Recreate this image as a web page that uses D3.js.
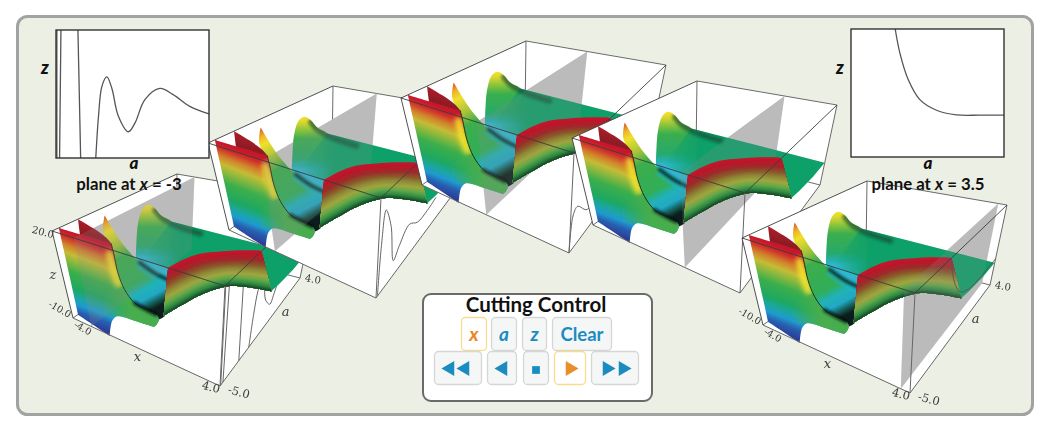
<!DOCTYPE html>
<html><head><meta charset="utf-8">
<script src="https://cdn.jsdelivr.net/npm/d3@7"></script>
<style>html,body{margin:0;padding:0;background:#fff;overflow:hidden}svg{display:block}</style>
</head><body><script>
// ---------- data (x, a, z are the chart's own axes) ----------
const xDomain = [-4, 4], aDomain = [-5, 4], zDomain = [-10, 20];
const cutPositions = [-3, -1.5, -0.5, 1, 3.5];

// z(a) cuts: each entry is a list of [a, z] runs
const cutAtMinus3 = [
  [[-4.95, 20], [-4.95, -10]],
  [[-4.71, 20], [-4.79, -10]],
  [[-3.71, 20], [-3.55, -10]],
  [[-2.66, -10], [-2.5, -0.2], [-2.3, 6.8], [-2.01, 9], [-1.72, 6.4], [-1.33, -0.2], [-0.74, -3.85], [-0.35, -1.76],
   [0.23, 3.7], [1.11, 6.3], [1.89, 4.85], [2.87, 2.1], [4, 0.34]]
];
const cutAtMinus1p5 = [
  [[-4.9, -10], [-4.8, 4.7], [-4.6, 14.5], [-4.17, 7.6], [-3.78, -5.1], [-3.34, -2.5], [-2.51, 0.7], [-1.7, -2.1], [-0.64, -2.3], [0.34, -1.3]]
];
const cutAtMinus0p5 = [
  [[-5, -10], [-4.94, -3.3], [-4.83, 0.5], [-4.53, 1.6], [-3.85, -2.9], [-3.45, -3.8], [-2, -2]]
];
const cutAt3p5 = [
  [[-2.4, 20], [-2.12, 14.3], [-1.63, 8.1], [-0.95, 3.45], [0.03, 0.96], [1.2, -0.12], [2.57, -0.2], [4, -0.2]]
];

// surface sheets: outlines as [x, z] at one a, or [x, a, z]
const wedgeA = -4.6;
const wedgeSheet = [[-3.82,19.9],[-2.27,21.6],[-0.85,23.1],[-0.84,20],[-0.87,13],[-0.71,7.8],[-0.29,4.4],[0.33,3.9],[0.87,3.75],[0.95,2.3],
  [0.59,-1.1],[0.1,-1.9],[-0.46,-2.4],[-1.21,-3.1],[-1.61,-4.1],[-1.95,-6.8],[-2.3,-12.8],[-3.93,-10.3],[-3.85,12.3]];
const footSheet = [[-2.13,1.29],[-0.76,8.77],[-0.29,4.4],[0.33,3.9],[0.87,3.75],[0.95,2.3],[0.59,-1.1],[0.1,-1.9],[-0.46,-2.4],[-1.21,-3.1],[-1.61,-4.1],[-2.44,-6.73]];
const ridgeLine = [[-0.85,23.1],[-0.84,20],[-0.87,13],[-0.71,7.8],[-0.29,4.4],[0.33,3.9],[0.87,3.75]];
const ridgeFoot = [[-0.29,4.4],[0.33,3.9],[0.87,3.75]];
const ridgeGlow = [[-1.1,19],[-1.1,13],[-1,9]];
const secondA = -3.5;
const secondSheet = [[-3.31,19.9],[-2.53,19.1],[-1.86,17.7],[-1.59,16],[-3.44,13.4]];
const spikeA = -2.5;
const spikeSheet = [[-2.35,19.8],[-1.92,14.5],[-1.44,10.5],[-0.9,7.95],[-0.14,6.5],[0.58,6.3],[-0.17,-8.52],[-0.62,-11.02],[-1.26,-11.17],
  [-1.88,-10.68],[-2.5,-7.89],[-2.69,-0.98],[-2.58,9.1],[-2.66,14]];
const spikeCrease = [[-0.9,7.95],[-0.14,6.5],[0.58,6.3]];
const spikeCyan = [[-0.95,6.65],[-0.19,5.2],[0.4,4.85]];
const peakA = 0.5;
const peakSheet = [[-3.24,-9.9],[-2.98,-3.9],[-2.58,4.15],[-2.11,10.36],[-1.7,13.05],[-1.34,12.96],[-1.05,11.2],[-0.52,10.8],[-0.13,9.04],[-0.42,-3.3],[-1.53,-13.45],[-3.12,-12.4]];
const peakShoulder = [[-1.34,12.2],[-1.05,10.6],[-0.52,10],[0.1,10.2],[1.07,11.2]];
const plateauSheet = [[-1.76,2.22,0],[4.67,3.92,0],[4.62,2.72,0],[4.5,1.47,0],[4.39,0.75,0],[2.76,3,0],[-0.47,-0.83,0],[-1.81,-0.87,0]];
const wallTop = [[1.81,-3.97,20],[2.17,-3.02,20],[2.67,-2.17,20],[3.41,-1.45,20],[4.18,-0.81,20],[5.07,-0.19,20]];
const wallBottom = [[0.76,-3.85,0],[1.2,-2.61,0],[1.7,-1.36,0],[2.43,-0.23,0],[3.25,0.3,0],[4.39,0.75,0]];

// tick labels
const tickLabels = [
  {t:"-10.0", p:[-4,-5,-10], dx:-13, dy:-9, r:30, s:9.5},
  {t:"-4.0",  p:[-4,-5,-10], dx:10,  dy:10, r:30, s:9.5},
  {t:"x",     p:[0,-5,-10],  dx:-9,  dy:4,  r:0,  s:13, i:1},
  {t:"4.0",   p:[4,-5,-10],  dx:-9,  dy:1,  r:15, s:11.5},
  {t:"-5.0",  p:[4,-5,-10],  dx:19,  dy:6,  r:15, s:11.5},
  {t:"a",     p:[4,-0.5,-10],dx:16.5,dy:-8, r:0,  s:13, i:1},
  {t:"4.0",   p:[4,4,-10],   dx:13,  dy:1,  r:10, s:10}
];
const zLabels = [
  {t:"20.0",  p:[-4,-5,20],  dx:-9,  dy:1,  r:15, s:10},
  {t:"z",     p:[-4,-5,5],   dx:-9.5,dy:0,  r:0,  s:13, i:1}
];
const insetCaptions = ["-3", "3.5"];
const toggleLabels = ["x", "a", "z", "Clear"];

// ---------- layout and styling ----------
const W = 1051, H = 430;
const panelOrigins = [[73,318],[229,230],[422,185],[593,225],[763,325]];
const panelCuts = [cutAtMinus3, cutAtMinus1p5, cutAtMinus0p5, [], cutAt3p5];
const panelCutOnTop = [false, false, false, false, true];
const corners = {fbl:[0,0], fbr:[147,68], ftl:[-21,-87], ftr:[152,-32], bbl:[103,-72], bbr:[227,-40], btl:[104,-144], btr:[244,-120]};
const tx = d3.scaleLinear().domain(xDomain).range([0,1]);
const ta = d3.scaleLinear().domain(aDomain).range([0,1]);
const tz = d3.scaleLinear().domain(zDomain).range([0,1]);
const depth = t => t*1.6/(1+0.6*t);

// box projection: perspective-like blend of the eight drawn corners
function boxPoint(x,a,z){
  const u=tx(x), v=depth(ta(a)), w=tz(z), c=corners;
  const lerp=(p,q,t)=>[p[0]+(q[0]-p[0])*t,p[1]+(q[1]-p[1])*t];
  return lerp(lerp(lerp(c.fbl,c.fbr,u),lerp(c.bbl,c.bbr,u),v),
              lerp(lerp(c.ftl,c.ftr,u),lerp(c.btl,c.btr,u),v),w);
}
// surface projection: the parallel view
function sheetPoint(p){
  const u=tx(p[0]), v=ta(p[1]), w=tz(p[2]);
  return [147*u+80*v-21*w, 68*u-108*v-87*w];
}
const withA=(arr,a)=>arr.map(p=>[p[0],a,p[1]]);

const svg = d3.select("body").append("svg").attr("width",W).attr("height",H).attr("viewBox",`0 0 ${W} ${H}`);
const defs = svg.append("defs");
const addBlur=(id,s)=>defs.append("filter").attr("id",id).attr("filterUnits","userSpaceOnUse").attr("x",-60).attr("y",-170).attr("width",340).attr("height",290)
  .append("feGaussianBlur").attr("stdDeviation",s);
addBlur("soft",0.45); addBlur("shade",1.6); addBlur("shadeWide",2.6);

function linGrad(id,from,dir,len,stops){
  const a=sheetPoint(from);
  const g=defs.append("linearGradient").attr("id",id).attr("gradientUnits","userSpaceOnUse")
    .attr("x1",a[0]).attr("y1",a[1]).attr("x2",a[0]+dir[0]*len).attr("y2",a[1]+dir[1]*len);
  stops.forEach(s=>g.append("stop").attr("offset",s[0]).attr("stop-color",s[1]).attr("stop-opacity",s[2]===undefined?1:s[2]));
}
const W3=withA(wedgeSheet,wedgeA), F3=withA(footSheet,wedgeA), S3=withA(secondSheet,secondA), K3=withA(spikeSheet,spikeA), P3=withA(peakSheet,peakA);
linGrad("gWedge",W3[0],[-0.355,0.935],81,[[0,"#c8142c"],[0.07,"#cf302c"],[0.16,"#d2822c"],[0.25,"#c6bb35"],[0.34,"#86b83e"],[0.45,"#3cae4c"],[0.62,"#1fa860"],[0.72,"#1fa6a0"],[0.8,"#1f9bd0"],[0.88,"#2860b0"],[1,"#2a3a96"]]);
linGrad("gFoot",F3[0],[1,0],27,[[0,"#46ad4e",0],[1,"#46ad4e",1]]);
linGrad("gSecond",S3[0],[-0.3,0.95],26,[[0,"#b01a2a"],[0.45,"#8c1c24"],[1,"#a83a28"]]);
linGrad("gSpike",K3[0],[0.47,0.88],106,[[0,"#d8501f"],[0.08,"#efb52a"],[0.15,"#f0e02c"],[0.3,"#a6c33a"],[0.42,"#3cae4c"],[0.7,"#30ae58"],[0.79,"#20b2b8"],[0.88,"#20a8c4"],[0.95,"#14544c"],[1,"#0c1e1c"]]);
linGrad("gPeak",P3[4],[0,1],53,[[0,"#f4e22a"],[0.1,"#dcd82f"],[0.25,"#8cc43c"],[0.42,"#3aae4e"],[0.78,"#28aa6a"],[0.93,"#25b0b0"],[1,"#2fb8d0"]]);
linGrad("gPlateau",plateauSheet[7],[1,0],36,[[0,"#10a068",0],[1,"#10a068",1]]);

const lineClosed=d3.line().curve(d3.curveCatmullRomClosed.alpha(0.5));
const lineOpen=d3.line().curve(d3.curveCatmullRom.alpha(0.5));
function outline(pts,sharp){
  const out=[];
  pts.forEach((p,i)=>{const q=sheetPoint(p); out.push(q); if(sharp.includes(i)) out.push([q[0]+0.01,q[1]+0.01]);});
  return lineClosed(out);
}
const surface=defs.append("g").attr("id","surface");
const wall=defs.append("g").attr("id","wall");
const sheet=(pts,sharp,fill)=>surface.append("path").attr("d",outline(pts,sharp)).attr("fill",fill);
const shade=(pts,color,w,op,f,clip)=>{
  const host=surface.append("g").attr("clip-path",clip?`url(#${clip})`:null);
  host.append("path").attr("d",lineOpen(pts.map(sheetPoint))).attr("fill","none")
  .attr("stroke",color).attr("stroke-width",w).attr("stroke-opacity",op).attr("stroke-linecap","round").attr("filter",f?`url(#${f})`:null);
};
const peakSharp=[0,8,9,10,11], plateauPath=d3.line()(plateauSheet.map(sheetPoint))+"Z";
const peakClip=defs.append("clipPath").attr("id","peakClip");
peakClip.append("path").attr("d",outline(P3,peakSharp));
peakClip.append("path").attr("d",plateauPath);
defs.append("clipPath").attr("id","wedgeClip").append("path").attr("d",outline(W3,[0,2,16,17]));

sheet(P3,peakSharp,"url(#gPeak)");
surface.append("path").attr("d",plateauPath).attr("fill","url(#gPlateau)");
shade(withA(peakShoulder,peakA),"#0b5034",6,0.7,"shade","peakClip");
sheet(K3,[0,5,6,11],"url(#gSpike)");
shade(withA(spikeCyan,spikeA),"#20b4c8",5,0.85,"shade");
shade(withA(spikeCrease,spikeA),"#061412",3.5,0.85,"shade");
sheet(S3,[0,3,4],"url(#gSecond)");
sheet(W3,[0,2,16,17],"url(#gWedge)");
shade(withA(ridgeGlow,wedgeA),"#f4e62a",7,0.95,"shadeWide","wedgeClip");
sheet(F3,[0,1,11],"url(#gFoot)");
shade(withA(ridgeLine,wedgeA),"#101a14",1,0.85);
shade(withA(ridgeFoot,wedgeA),"#050c0a",3.5,0.85,"shade");

// the wall of the surface, ruled between the two rails and coloured down the rails
const wallColour=d3.piecewise(d3.interpolateRgb,["#c4142c","#b81a2c","#9a2e2a","#8a5a2a","#8f8a38","#a0a63f","#62a84a","#2f8a42","#123d24"]);
const bottomRev=wallBottom.map(sheetPoint).reverse();
d3.range(0,40).forEach(i=>{
  const t=i/40;
  const rail=wallTop.map((p,j)=>{const a=sheetPoint(p),b=sheetPoint(wallBottom[j]);return [a[0]+(b[0]-a[0])*t,a[1]+(b[1]-a[1])*t];});
  wall.append("path").attr("d",lineOpen(rail)+"L"+lineOpen(bottomRev).slice(1)+"Z").attr("fill",wallColour(t));
});

// ---------- frame ----------
svg.append("rect").attr("x",17.5).attr("y",16.5).attr("width",1015).attr("height",398).attr("rx",10)
  .attr("fill","#ecefe3").attr("stroke","#a2a2a2").attr("stroke-width",3);

// ---------- the five cut views ----------
const edge=(g,a,b,c,w)=>g.append("line").attr("x1",a[0]).attr("y1",a[1]).attr("x2",b[0]).attr("y2",b[1]).attr("stroke",c).attr("stroke-width",w);
const cutLine=d3.line().curve(d3.curveCatmullRom.alpha(0.5));
function drawCut(g,runs){
  runs.forEach(run=>g.append("path").attr("d",cutLine(run.map(d=>boxPoint(xDomain[1],d[0],d[1]))))
    .attr("fill","none").attr("stroke","#555").attr("stroke-width",0.9));
}
function addLabels(g,list){
  list.forEach(l=>{
    const q=boxPoint(...l.p);
    g.append("text").attr("transform",`translate(${q[0]+l.dx},${q[1]+l.dy}) rotate(${l.r})`)
      .attr("text-anchor","middle").attr("dominant-baseline","central")
      .attr("font-family","'DejaVu Serif','Liberation Serif',serif").attr("font-style",l.i?"italic":"normal")
      .attr("font-size",l.s).attr("fill","#3a3a3a").text(l.t);
  });
}
panelOrigins.forEach((o,i)=>{
  const g=svg.append("g").attr("transform",`translate(${o[0]},${o[1]})`).attr("filter","url(#soft)");
  const c=corners, x=cutPositions[i];
  const plane=[boxPoint(x,-5,-10),boxPoint(x,4,-10),boxPoint(x,4,20),boxPoint(x,-5,20)];
  const tint=()=>g.append("polygon").attr("points",plane.join(" ")).attr("fill","#8e8e8e").attr("fill-opacity",0.2);
  g.append("polygon").attr("points",[c.fbl,c.fbr,c.bbr,c.btr,c.btl,c.ftl].join(" ")).attr("fill","#fff");
  [[c.btl,c.btr],[c.btl,c.bbl],[c.bbl,c.bbr],[c.bbl,c.fbl],[c.btr,c.bbr]].forEach(e=>edge(g,e[0],e[1],"#6a6a6a",1));
  g.append("polygon").attr("points",plane.join(" ")).attr("fill","#c7c7c7");
  if(!panelCutOnTop[i]) drawCut(g,panelCuts[i]);
  g.append("use").attr("href","#surface");
  if(i<4) tint();
  g.append("use").attr("href","#wall");
  if(i===4) tint();
  if(panelCutOnTop[i]) drawCut(g,panelCuts[i]);
  [[c.ftl,c.ftr],[c.ftr,c.btr],[c.ftl,c.btl],[c.ftl,c.fbl]].forEach(e=>edge(g,e[0],e[1],"#3c3c3c",0.9));
  [[c.ftr,c.fbr],[c.fbl,c.fbr],[c.fbr,c.bbr]].forEach(e=>edge(g,e[0],e[1],"#666",1));
  if(i===0) addLabels(g,zLabels);
  if(i===0||i===4) addLabels(g,tickLabels);
});

// ---------- the two plane plots ----------
const insets=[{b:[56,30,209,158],runs:cutAtMinus3,label:0,cx:129,zx:45,ax:134},
              {b:[851,29,1004,157],runs:cutAt3p5,label:1,cx:928,zx:840,ax:928}];
const capFont="Lato,'Open Sans',sans-serif";
insets.forEach(p=>{
  const [l,t,r,b]=p.b;
  const sa=d3.scaleLinear().domain(aDomain).range([l,r]);
  const sz=d3.scaleLinear().domain(zDomain).range([b,t]);
  const g=svg.append("g");
  g.append("rect").attr("x",l).attr("y",t).attr("width",r-l).attr("height",b-t).attr("fill","#fff");
  const ln=d3.line().x(d=>sa(d[0])).y(d=>sz(d[1])).curve(d3.curveCatmullRom.alpha(0.5));
  p.runs.forEach(run=>g.append("path").attr("d",ln(run)).attr("fill","none").attr("stroke","#555").attr("stroke-width",1.3));
  g.append("rect").attr("x",l).attr("y",t).attr("width",r-l).attr("height",b-t).attr("fill","none").attr("stroke","#333").attr("stroke-width",1.4);
  svg.append("text").attr("x",p.zx).attr("y",74).attr("text-anchor","middle").attr("font-family",capFont).attr("font-weight",900).attr("font-style","italic").attr("font-size",18).attr("fill","#111").text("z");
  svg.append("text").attr("x",p.ax).attr("y",169).attr("text-anchor","middle").attr("font-family",capFont).attr("font-weight",900).attr("font-style","italic").attr("font-size",17).attr("fill","#111").text("a");
  const cap=svg.append("text").attr("x",p.cx).attr("y",190).attr("text-anchor","middle").attr("font-family",capFont).attr("font-weight",700).attr("font-size",16.8).attr("fill","#111");
  cap.append("tspan").text("plane at ");
  cap.append("tspan").attr("font-style","italic").text("x");
  cap.append("tspan").text(" = "+insetCaptions[p.label]);
});

// ---------- the cutting control ----------
const ctrl=svg.append("g");
ctrl.append("rect").attr("x",423).attr("y",294).attr("width",229).attr("height",107).attr("rx",8).attr("fill","#fff").attr("stroke","#6a6a6a").attr("stroke-width",2);
ctrl.append("text").attr("x",536).attr("y",312).attr("text-anchor","middle").attr("font-family",capFont).attr("font-weight",700).attr("font-size",20.5).attr("fill","#111").text("Cutting Control");
const blue="#1a8cc0", orange="#e8851f";
const toggleBoxes=[[461,487,true],[491,517,false],[522,547,false],[552,612,false]];
const button=(x0,x1,y0,y1,on)=>ctrl.append("rect").attr("x",x0+0.5).attr("y",y0+0.5).attr("width",x1-x0-1).attr("height",y1-y0-1).attr("rx",4)
  .attr("fill",on?"#fff":"#f5f6f6").attr("stroke",on?"#f6dc8c":"#d6d6d6").attr("stroke-width",1.3);
toggleBoxes.forEach((b,i)=>{
  button(b[0],b[1],317,351,b[2]);
  ctrl.append("text").attr("x",(b[0]+b[1])/2).attr("y",341).attr("text-anchor","middle").attr("font-family",capFont)
    .attr("font-weight",700).attr("font-style",i<3?"italic":"normal").attr("font-size",i<3?19:18.5)
    .attr("fill",b[2]?orange:blue).text(toggleLabels[i]);
});
const transport=[[434,482,[[450,-90],[465,-90]],false],[487,517,[[503,-90]],false],[523,549,[[536,null]],false],[554,586,[[570,90]],true],[591,639,[[607,90],[623,90]],false]];
transport.forEach(b=>{
  button(b[0],b[1],351,385,b[3]);
  b[2].forEach(ic=>{
    const sym=ic[1]===null?d3.symbol(d3.symbolSquare,60):d3.symbol(d3.symbolTriangle,95);
    ctrl.append("path").attr("d",sym()).attr("transform",`translate(${ic[0]},${ic[1]===null?370:368.5}) rotate(${ic[1]||0})`).attr("fill",b[3]?"#ea8e2b":blue);
  });
});
</script></body></html>
